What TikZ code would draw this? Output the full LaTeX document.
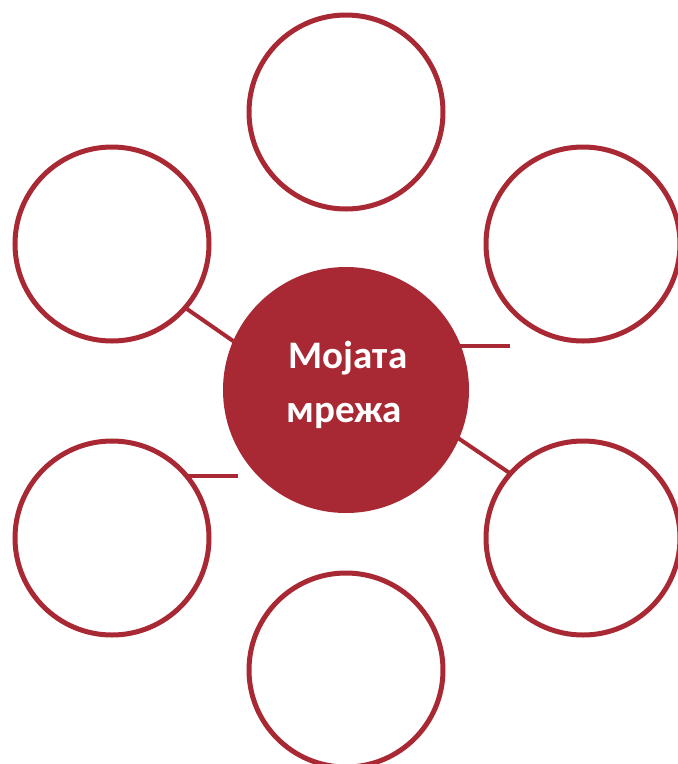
\documentclass[tikz,border=0pt]{standalone}
\usepackage{fontspec}
\setmainfont{Carlito}
\definecolor{netred}{RGB}{168,41,52}
\tikzset{
  outer/.style={circle, draw=netred, line width=5pt, minimum size=194pt, inner sep=0pt, fill=white},
  link/.style={draw=netred, line width=4pt},
  label/.style={text=white, font=\bfseries\fontsize{39}{54}\selectfont, anchor=base, inner sep=0pt},
}
\begin{document}
\begin{tikzpicture}[x=1pt,y=-1pt]
\useasboundingbox (0,0) rectangle (678,764);
\draw[link] (187,309) coordinate (l1a) -- (236,343) coordinate (l1b);
\draw[link] (455,346) coordinate (l2a) -- (510,346) coordinate (l2b);
\draw[link] (187,476) coordinate (l3a) -- (238,476) coordinate (l3b);
\draw[link] (455,436) coordinate (l4a) -- (511,474) coordinate (l4b);
\node[circle, fill=netred, minimum size=246pt, inner sep=0pt] (c) at (346,390) {};
\node[label] (t1) at (348,368) {Мојата};
\node[label] (t2) at (344,422) {мрежа};
\node[outer] (n1) at (346,112) {};
\node[outer] (n2) at (112,244) {};
\node[outer] (n3) at (583,244) {};
\node[outer] (n4) at (112,538) {};
\node[outer] (n5) at (583,538) {};
\node[outer] (n6) at (346,670) {};
\end{tikzpicture}
\end{document}
